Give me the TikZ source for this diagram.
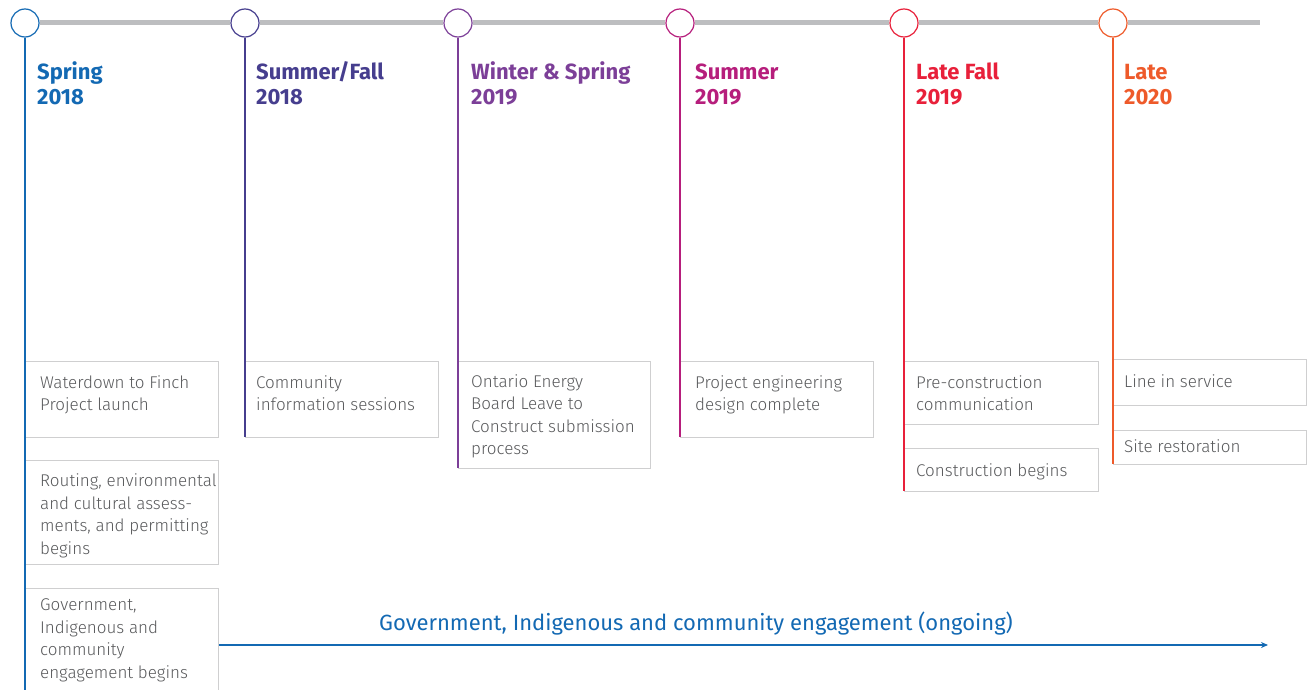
\documentclass[tikz,border=0pt]{standalone}
\usepackage{fontspec}
\setmainfont{Fira Sans}
\newfontfamily\lightfont{Fira Sans Light}
\usetikzlibrary{arrows.meta}
\definecolor{cA}{HTML}{1369B3}
\definecolor{cB}{HTML}{463E8E}
\definecolor{cC}{HTML}{7C3F98}
\definecolor{cD}{HTML}{B61E7C}
\definecolor{cE}{HTML}{E8203A}
\definecolor{cF}{HTML}{EE5A2A}
\definecolor{rail}{HTML}{BDBEC0}
\definecolor{boxline}{HTML}{CFCFD0}
\definecolor{txt}{HTML}{58595B}
\tikzset{
  dot/.style={circle, draw=#1, fill=white, line width=1.2pt, minimum size=28pt, inner sep=0pt},
  stem/.style={draw=#1, line width=1.3pt},
  head/.style={text=#1, font=\fontsize{22}{25}\selectfont\bfseries, anchor=base west, align=left, inner sep=0pt},
  box/.style={draw=boxline, line width=1.3pt, anchor=north west, inner sep=0pt, minimum width=#1},
  boxtext/.style={text=txt, font=\lightfont\fontsize{17}{22.5}\selectfont, anchor=base west, align=left, inner sep=0pt},
}
\begin{document}
\begin{tikzpicture}[x=1pt,y=-1pt]
\useasboundingbox (0,0) rectangle (1307,690);
\clip (0,0) rectangle (1307,690);
% rail
\coordinate (railend) at (1260,23);
\node[dot=cA] (d1) at (25,23) {};
\node[dot=cB] (d2) at (245,23) {};
\node[dot=cC] (d3) at (458,23) {};
\node[dot=cD] (d4) at (680,23) {};
\node[dot=cE] (d5) at (904,23) {};
\node[dot=cF] (d6) at (1113,23) {};
\draw[rail, line width=5pt] (d1.east) -- (d2.west) (d2.east) -- (d3.west) (d3.east) -- (d4.west) (d4.east) -- (d5.west) (d5.east) -- (d6.west) (d6.east) -- (railend);
% headings (anchor = baseline of last line)
\node[head=cA] (h1) at (37,105) {Spring\\2018};
\node[head=cB] (h2) at (256,105) {Summer/Fall\\2018};
\node[head=cC] (h3) at (471,105) {Winter \& Spring\\2019};
\node[head=cD] (h4) at (695,105) {Summer\\2019};
\node[head=cE] (h5) at (916,105) {Late Fall\\2019};
\node[head=cF] (h6) at (1124,105) {Late\\2020};
% boxes
\node[box=193pt, minimum height=76pt] (b11) at (25,361) {};
\node[box=193pt, minimum height=104pt] (b12) at (25,460) {};
\node[box=193pt, minimum height=110pt] (b13) at (25,588) {};
\node[box=193pt, minimum height=76pt] (b21) at (245,361) {};
\node[box=192pt, minimum height=107pt] (b31) at (458,361) {};
\node[box=193pt, minimum height=76pt] (b41) at (680,361) {};
\node[box=194pt, minimum height=63pt] (b51) at (904,361) {};
\node[box=194pt, minimum height=43pt] (b52) at (904,448) {};
\node[box=193pt, minimum height=46pt] (b61) at (1113,359) {};
\node[box=193pt, minimum height=34pt] (b62) at (1113,430) {};
% box texts (anchor = baseline of last line)
\node[boxtext] (t11) at (40,410.5) {Waterdown to Finch\\Project launch};
\node[boxtext] (t12) at (40,554) {Routing, environmental\\and cultural assess-\\ments, and permitting\\begins};
\node[boxtext] (t13) at (40,678) {Government,\\Indigenous and\\community\\engagement begins};
\node[boxtext] (t21) at (256,410.5) {Community\\information sessions};
\node[boxtext] (t31) at (471,454.5) {Ontario Energy\\Board Leave to\\Construct submission\\process};
\node[boxtext] (t41) at (695,410.5) {Project engineering\\design complete};
\node[boxtext] (t51) at (916,410.5) {Pre-construction\\communication};
\node[boxtext] (t52) at (916,476.5) {Construction begins};
\node[boxtext] (t61) at (1124,387) {Line in service};
\node[boxtext] (t62) at (1124,452) {Site restoration};
% stems
\coordinate (e1) at (25,691);
\coordinate (e2) at (245,437);
\coordinate (e3) at (458,468);
\coordinate (e4) at (680,437);
\coordinate (e5) at (904,491);
\coordinate (e6) at (1113,464);
\draw[stem=cA] (d1.south) -- (e1);
\draw[stem=cB] (d2.south) -- (e2);
\draw[stem=cC] (d3.south) -- (e3);
\draw[stem=cD] (d4.south) -- (e4);
\draw[stem=cE] (d5.south) -- (e5);
\draw[stem=cF] (d6.south) -- (e6);
% ongoing arrow
\coordinate (arrend) at (1268,645);
\draw[cA, line width=1.3pt, -{Stealth[length=7pt,width=6pt]}] (b13.east |- 0,645) -- (arrend);
\node[text=cA, font=\fontsize{22}{26}\selectfont, anchor=base] (ong) at (696,630) {Government, Indigenous and community engagement (ongoing)};
\end{tikzpicture}
\end{document}
